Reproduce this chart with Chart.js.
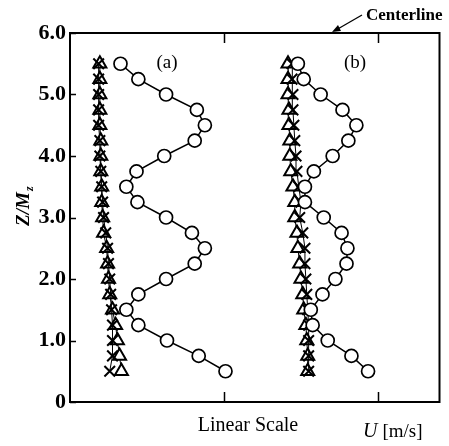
<!DOCTYPE html>
<html>
<head>
<meta charset="UTF-8">
<title>Velocity profiles</title>
<script src="https://cdn.jsdelivr.net/npm/chart.js"></script>
<style>
    html, body { margin: 0; padding: 0; background: #fff; }
    #box { width: 449px; height: 446px; position: relative; }
</style>
</head>
<body>
<div id="box">
    <canvas id="myChart"></canvas>
</div>

<script>
    // heights Z/Mz, shared by every profile
    const zLevels = [0.5, 0.75, 1.0, 1.25, 1.5, 1.75, 2.0, 2.25, 2.5, 2.75, 3.0,
                     3.25, 3.5, 3.75, 4.0, 4.25, 4.5, 4.75, 5.0, 5.25, 5.5];

    // profile (a)
    const circleA = [5.05, 4.18, 3.15, 2.22, 1.83, 2.22, 3.12, 4.05, 4.38, 3.96, 3.12,
                     2.19, 1.83, 2.16, 3.06, 4.05, 4.38, 4.12, 3.12, 2.22, 1.64];
    const triA    = [1.67, 1.61, 1.54, 1.48, 1.38, 1.29, 1.25, 1.22, 1.19, 1.09, 1.06,
                     1.03, 1.03, 1.00, 1.00, 1.00, 0.97, 0.97, 0.97, 0.97, 0.97];
    const crossA  = [1.29, 1.38, 1.38, 1.38, 1.35, 1.32, 1.29, 1.25, 1.22, 1.16, 1.09,
                     1.06, 1.03, 1.00, 0.97, 0.97, 0.93, 0.93, 0.93, 0.93, 0.93];

    // profile (b)
    const circleB = [9.68, 9.14, 8.37, 7.88, 7.82, 8.20, 8.62, 8.98, 9.01, 8.82, 8.24,
                     7.63, 7.63, 7.92, 8.53, 9.04, 9.30, 8.85, 8.14, 7.59, 7.40];
    const triB    = [7.72, 7.72, 7.69, 7.66, 7.59, 7.56, 7.50, 7.46, 7.40, 7.37, 7.30,
                     7.30, 7.24, 7.17, 7.14, 7.14, 7.11, 7.11, 7.08, 7.08, 7.08];
    const crossB  = [7.75, 7.75, 7.75, 7.75, 7.72, 7.69, 7.66, 7.63, 7.63, 7.56, 7.46,
                     7.50, 7.43, 7.37, 7.34, 7.30, 7.27, 7.24, 7.24, 7.21, 7.21];

    const yTicks = [0, 1, 2, 3, 4, 5, 6];
    const xTicks = [5, 10];

    const serif = "'Liberation Serif', 'DejaVu Serif', serif";

    const toPoints = (xs) => xs.map((x, i) => ({ x: x, y: zLevels[i] }));

    const circleSet = (xs) => ({
        data: toPoints(xs),
        showLine: true,
        borderColor: '#000',
        borderWidth: 1.5,
        pointStyle: 'circle',
        pointRadius: 6.5,
        pointBorderWidth: 1.7,
        pointBackgroundColor: '#fff',
        pointBorderColor: '#000'
    });
    const crossSet = (xs) => ({
        data: toPoints(xs),
        showLine: true,
        borderColor: '#000',
        borderWidth: 1,
        pointStyle: 'crossRot',
        pointRadius: 7.5,
        pointBorderWidth: 2,
        pointBorderColor: '#000'
    });
    const triSet = (xs) => ({
        data: toPoints(xs),
        showLine: true,
        borderColor: '#000',
        borderWidth: 1,
        pointStyle: 'triangle',
        pointRadius: 7.5,
        pointBorderWidth: 2,
        pointBackgroundColor: '#fff',
        pointBorderColor: '#000'
    });

    // box, inner ticks and all free text
    const decorPlugin = {
        id: 'decor',
        afterDatasetsDraw(chart) {
            const ctx = chart.ctx;
            const a = chart.chartArea;
            const xs = chart.scales.x, ys = chart.scales.y;
            ctx.save();
            ctx.strokeStyle = '#000';
            ctx.lineWidth = 2;
            ctx.strokeRect(a.left, a.top, a.right - a.left, a.bottom - a.top);

            ctx.lineWidth = 1.5;
            ctx.beginPath();
            yTicks.forEach(v => {
                const py = Math.round(ys.getPixelForValue(v)) + 0.5;
                ctx.moveTo(a.left, py);
                ctx.lineTo(a.left + 6, py);
            });
            xTicks.forEach(v => {
                const px = Math.round(xs.getPixelForValue(v)) + 0.5;
                ctx.moveTo(px, a.bottom);
                ctx.lineTo(px, a.bottom - 10);
                ctx.moveTo(px, a.top);
                ctx.lineTo(px, a.top + 10);
            });
            ctx.stroke();
            ctx.restore();
        },
        afterDraw(chart) {
            const ctx = chart.ctx;
            const a = chart.chartArea;
            ctx.save();
            ctx.fillStyle = '#000';
            ctx.textBaseline = 'alphabetic';

            // panel tags
            ctx.font = '19px ' + serif;
            ctx.textAlign = 'center';
            ctx.fillText('(a)', 167, 68);
            ctx.fillText('(b)', 355, 68);

            // centerline callout
            ctx.font = 'bold 17px ' + serif;
            ctx.textAlign = 'left';
            ctx.fillText('Centerline', 366, 20);
            ctx.lineWidth = 1.3;
            ctx.beginPath();
            ctx.moveTo(362, 15);
            ctx.lineTo(336, 30);
            ctx.stroke();
            ctx.beginPath();
            ctx.moveTo(332, 32);
            ctx.lineTo(338, 25);
            ctx.lineTo(341, 31);
            ctx.closePath();
            ctx.fill();

            // x axis captions
            ctx.font = '20px ' + serif;
            ctx.textAlign = 'center';
            ctx.fillText('Linear Scale', 248, 431);
            ctx.textAlign = 'left';
            ctx.font = 'italic 20px ' + serif;
            ctx.fillText('U', 363, 437);
            const uw = ctx.measureText('U ').width;
            ctx.font = '19px ' + serif;
            ctx.fillText('[m/s]', 363 + uw, 437);

            // y axis caption Z/Mz, rotated
            ctx.translate(29, (a.top + a.bottom) / 2 - 14);
            ctx.rotate(-Math.PI / 2);
            ctx.textAlign = 'left';
            ctx.font = 'italic bold 19px ' + serif;
            const main = 'Z/M';
            const mw = ctx.measureText(main).width;
            const zw = 11;
            const start = -(mw + zw) / 2;
            ctx.fillText(main, start, 0);
            ctx.font = 'italic bold 12px ' + serif;
            ctx.fillText('z', start + mw + 1, 4);
            ctx.restore();
        }
    };

    new Chart(document.getElementById('myChart'), {
        type: 'scatter',
        data: {
            datasets: [
                circleSet(circleA), crossSet(crossA), triSet(triA),
                circleSet(circleB), crossSet(crossB), triSet(triB)
            ]
        },
        options: {
            responsive: true,
            maintainAspectRatio: false,
            animation: false,
            layout: { padding: { top: 33, right: 6, bottom: 44, left: 0 } },
            scales: {
                x: {
                    type: 'linear',
                    min: 0,
                    max: 12,
                    display: false
                },
                y: {
                    type: 'linear',
                    min: 0,
                    max: 6,
                    afterFit(scale) { scale.width = 70; },
                    afterBuildTicks(scale) { scale.ticks = yTicks.map(v => ({ value: v })); },
                    grid: { display: false, drawTicks: false },
                    border: { display: false },
                    ticks: {
                        padding: 4,
                        color: '#000',
                        font: { family: serif, size: 22, weight: 'bold' },
                        callback: v => v === 0 ? '0' : v.toFixed(1)
                    }
                }
            },
            plugins: {
                legend: { display: false },
                tooltip: { enabled: false }
            }
        },
        plugins: [decorPlugin]
    });
</script>
</body>
</html>
